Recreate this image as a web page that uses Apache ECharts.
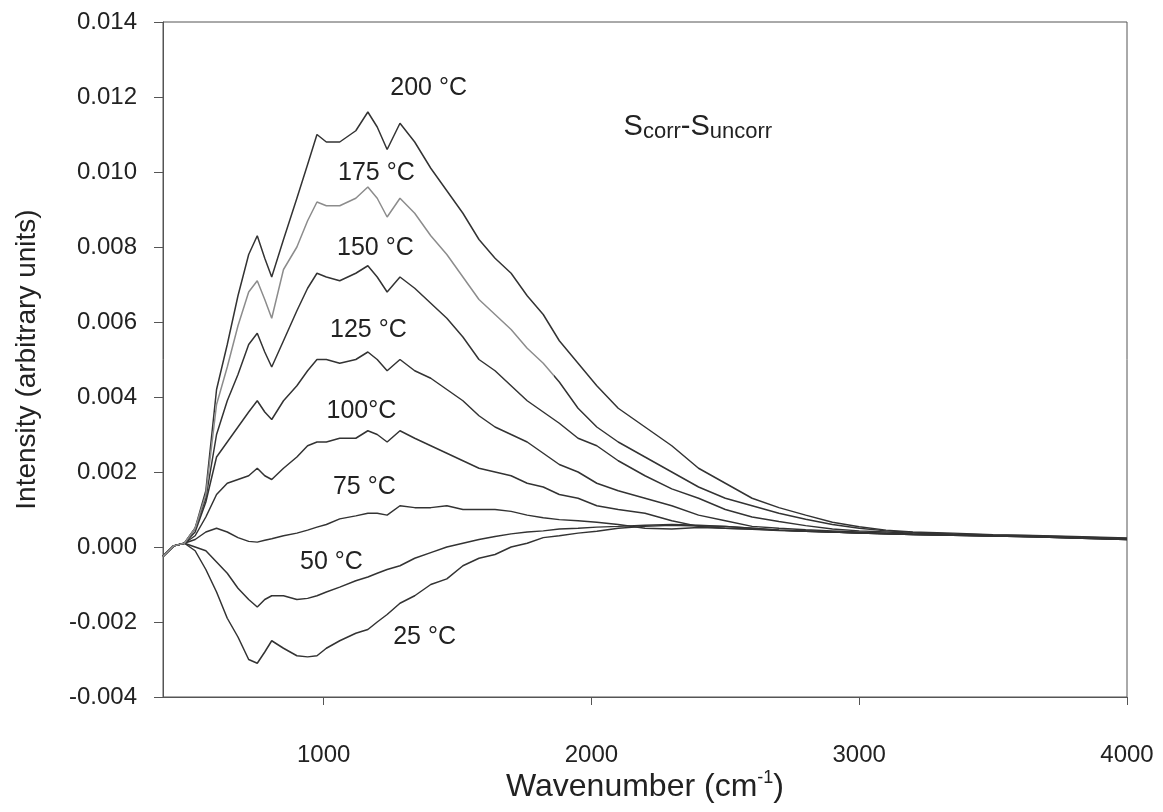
<!DOCTYPE html>
<html>
<head>
<meta charset="utf-8">
<script src="https://cdn.jsdelivr.net/npm/echarts@6/dist/echarts.min.js"></script>
<style>
  html, body { margin: 0; padding: 0; background: #fff; }
  #chart { width: 1163px; height: 812px; }
</style>
</head>
<body>
<div id="chart"></div>
<script>
// Wavenumber grid (cm^-1) shared by all spectra
const wavenumber = [400, 440, 480, 520, 560, 600, 640, 680, 720, 752, 780, 806, 850, 900, 940, 975, 1010, 1060, 1120, 1165,
  1200, 1237, 1285, 1340, 1400, 1460, 1520, 1580, 1640, 1700, 1760, 1820, 1880, 1950, 2020, 2100, 2200, 2300, 2400, 2500,
  2600, 2700, 2800, 2900, 3000, 3100, 3200, 3350, 3500, 3650, 3800, 4000];

// S_corr - S_uncorr difference spectra, one per temperature
const t200 = [-0.00025, 0.00003, 0.0001, 0.0005, 0.0015, 0.0042, 0.0054, 0.0067, 0.0078, 0.0083, 0.0077, 0.0072, 0.0082, 0.0093, 0.0102, 0.0110, 0.0108, 0.0108, 0.0111, 0.0116,
  0.0112, 0.0106, 0.0113, 0.0108, 0.0101, 0.0095, 0.0089, 0.0082, 0.0077, 0.0073, 0.0067, 0.0062, 0.0055, 0.0049, 0.0043, 0.0037, 0.0032, 0.0027, 0.0021, 0.0017,
  0.0013, 0.00105, 0.00085, 0.00066, 0.00054, 0.00045, 0.0004, 0.00037, 0.00033, 0.00031, 0.00028, 0.00024];
const t175 = [-0.00025, 0.00003, 0.0001, 0.0005, 0.0014, 0.0038, 0.0048, 0.0059, 0.0068, 0.0071, 0.0066, 0.0061, 0.0074, 0.0080, 0.0087, 0.0092, 0.0091, 0.0091, 0.0093, 0.0096,
  0.0093, 0.0088, 0.0093, 0.0089, 0.0083, 0.0078, 0.0072, 0.0066, 0.0062, 0.0058, 0.0053, 0.0049, 0.0044, 0.0037, 0.0032, 0.0028, 0.0024, 0.0020, 0.0016, 0.0013,
  0.0011, 0.0009, 0.00074, 0.0006, 0.0005, 0.00043, 0.00039, 0.00035, 0.00032, 0.0003, 0.00027, 0.00023];
const t150 = [-0.00025, 0.00003, 0.0001, 0.0005, 0.0013, 0.0030, 0.0039, 0.0046, 0.0054, 0.0057, 0.0052, 0.0048, 0.0055, 0.0063, 0.0069, 0.0073, 0.0072, 0.0071, 0.0073, 0.0075,
  0.0072, 0.0068, 0.0072, 0.0069, 0.0065, 0.0061, 0.0056, 0.0050, 0.0047, 0.0043, 0.0039, 0.0036, 0.0033, 0.0029, 0.0027, 0.0023, 0.0019, 0.00155, 0.0013, 0.001,
  0.0008, 0.00068, 0.00057, 0.00048, 0.00043, 0.0004, 0.00037, 0.00034, 0.00031, 0.00029, 0.00026, 0.00022];
const t125 = [-0.00025, 0.00003, 0.0001, 0.0004, 0.0012, 0.0024, 0.0028, 0.0032, 0.0036, 0.0039, 0.0036, 0.0034, 0.0039, 0.0043, 0.0047, 0.0050, 0.0050, 0.0049, 0.0050, 0.0052,
  0.0050, 0.0047, 0.0050, 0.0047, 0.0045, 0.0042, 0.0039, 0.0035, 0.0032, 0.0030, 0.0028, 0.0025, 0.0022, 0.0020, 0.0017, 0.0015, 0.0013, 0.0011, 0.00085, 0.0007,
  0.00055, 0.0005, 0.00046, 0.00043, 0.0004, 0.00037, 0.00035, 0.00033, 0.0003, 0.00028, 0.00025, 0.00021];
const t100 = [-0.00025, 0.00003, 0.0001, 0.0003, 0.0008, 0.0014, 0.0017, 0.0018, 0.0019, 0.0021, 0.0019, 0.0018, 0.0021, 0.0024, 0.0027, 0.0028, 0.0028, 0.0029, 0.0029, 0.0031,
  0.0030, 0.0028, 0.0031, 0.0029, 0.0027, 0.0025, 0.0023, 0.0021, 0.0020, 0.0019, 0.0017, 0.0016, 0.0014, 0.0013, 0.0011, 0.0010, 0.0009, 0.0007, 0.00055, 0.0005,
  0.00048, 0.00045, 0.00043, 0.0004, 0.00038, 0.00036, 0.00034, 0.00032, 0.0003, 0.00028, 0.00025, 0.00021];
const t75 = [-0.00025, 0.00003, 0.0001, 0.0002, 0.0004, 0.0005, 0.0004, 0.00025, 0.00015, 0.00013, 0.00018, 0.00022, 0.0003, 0.00037, 0.00045, 0.00053, 0.0006, 0.00075, 0.00083, 0.0009,
  0.0009, 0.00085, 0.0011, 0.00105, 0.00105, 0.0011, 0.0010, 0.0010, 0.0010, 0.00095, 0.00085, 0.00078, 0.00073, 0.0007, 0.00066, 0.0006, 0.0005, 0.00048, 0.00052, 0.0005,
  0.00047, 0.00044, 0.00042, 0.0004, 0.00037, 0.00035, 0.00033, 0.00031, 0.00029, 0.00027, 0.00024, 0.0002];
const t50 = [-0.00025, 0.00003, 0.0001, 0.0, -0.0001, -0.0004, -0.0007, -0.0011, -0.0014, -0.0016, -0.0014, -0.0013, -0.0013, -0.0014, -0.00137, -0.0013, -0.0012, -0.00107, -0.0009, -0.0008,
  -0.0007, -0.0006, -0.0005, -0.0003, -0.00015, 0.0, 0.0001, 0.0002, 0.00028, 0.00035, 0.0004, 0.00043, 0.00048, 0.0005, 0.00053, 0.00055, 0.00058, 0.0006, 0.00058, 0.00055,
  0.0005, 0.00045, 0.00042, 0.0004, 0.00037, 0.00035, 0.00033, 0.00031, 0.00029, 0.00027, 0.00024, 0.0002];
const t25 = [-0.00025, 0.00003, 0.0001, -0.0001, -0.0006, -0.0012, -0.0019, -0.0024, -0.0030, -0.0031, -0.0028, -0.0025, -0.0027, -0.0029, -0.00293, -0.0029, -0.0027, -0.0025, -0.0023, -0.0022,
  -0.0020, -0.0018, -0.0015, -0.0013, -0.0010, -0.00085, -0.0005, -0.0003, -0.0002, 0.0, 0.0001, 0.00025, 0.0003, 0.00037, 0.00042, 0.0005, 0.00055, 0.00058, 0.00056, 0.00055,
  0.0005, 0.00045, 0.00042, 0.0004, 0.00037, 0.00035, 0.00033, 0.00031, 0.00029, 0.00027, 0.00024, 0.0002];

const spectra = [t200, t175, t150, t125, t100, t75, t50, t25];
const curveLabels = ['200 °C', '175 °C', '150 °C', '125 °C', '100°C', '75 °C', '50 °C', '25 °C'];
// label anchor points in data space (wavenumber, intensity)
const labelWavenumber = [1392, 1197, 1193, 1167, 1141, 1152, 1029, 1377];
const labelIntensity = [0.01224, 0.00997, 0.00797, 0.00579, 0.00363, 0.0016, -0.0004, -0.0024];

const yTicks = { min: -0.004, max: 0.014, interval: 0.002 };
const xTicks = { min: 400, max: 4000, values: [1000, 2000, 3000, 4000] };
// the 175 °C trace is drawn lighter below this wavenumber
const lightUntil = 1860;

const FONT = '"Liberation Sans", Arial, sans-serif';
const INK = '#333';
const TEXT = '#222';
const LIGHT = '#8c8c8c';

const chart = echarts.init(document.getElementById('chart'), null, { renderer: 'canvas' });

function buildSeries(lightColor) {
  return spectra.map((vals, i) => ({
    name: curveLabels[i],
    type: 'line',
    data: wavenumber.map((w, k) => [w, vals[k]]),
    showSymbol: false,
    symbol: 'none',
    smooth: false,
    lineStyle: { color: (i === 1 && lightColor) ? lightColor : INK, width: 1.5 },
    itemStyle: { color: INK },
    z: i === 1 ? 3 : 2,
    animation: false
  }));
}

chart.setOption({
  backgroundColor: '#fff',
  animation: false,
  grid: { left: 163, right: 36, top: 22, bottom: 115, show: true, borderColor: '#555', borderWidth: 1 },
  xAxis: {
    type: 'value',
    min: xTicks.min,
    max: xTicks.max,
    interval: 1000,
    axisLine: { show: true, onZero: false, lineStyle: { color: '#555', width: 1 } },
    axisTick: { show: true, inside: false, length: 8, lineStyle: { color: '#555' }, customValues: xTicks.values },
    axisLabel: { color: TEXT, fontFamily: FONT, fontSize: 24, margin: 46, customValues: xTicks.values,
      formatter: v => String(v) },
    splitLine: { show: false },
    name: 'Wavenumber (cm{sup|-1})',
    nameLocation: 'middle',
    nameGap: 72,
    nameMoveOverlap: false,
    nameTextStyle: {
      color: TEXT, fontFamily: FONT, fontSize: 32,
      rich: { sup: { fontFamily: FONT, fontSize: 18, color: TEXT, verticalAlign: 'top', padding: [0, 0, 18, 0] } }
    }
  },
  yAxis: {
    type: 'value',
    min: yTicks.min,
    max: yTicks.max,
    interval: yTicks.interval,
    axisLine: { show: true, onZero: false, lineStyle: { color: '#555', width: 1 } },
    axisTick: { show: true, inside: false, length: 9, lineStyle: { color: '#555' } },
    axisLabel: { color: TEXT, fontFamily: FONT, fontSize: 24, margin: 26,
      formatter: v => v.toFixed(3) },
    splitLine: { show: false },
    name: 'Intensity (arbitrary units)',
    nameLocation: 'middle',
    nameGap: 122,
    nameMoveOverlap: false,
    nameRotate: 90,
    nameTextStyle: { color: TEXT, fontFamily: FONT, fontSize: 28 }
  },
  series: buildSeries(null)
});

// light/dark split of the 175 °C trace as a hard-stop horizontal gradient
const xLeft = chart.convertToPixel({ gridIndex: 0 }, [xTicks.min, 0])[0];
const xRight = chart.convertToPixel({ gridIndex: 0 }, [xTicks.max, 0])[0];
const xSplit = chart.convertToPixel({ gridIndex: 0 }, [lightUntil, 0])[0];
const f = (xSplit - xLeft) / (xRight - xLeft);
const splitColor = new echarts.graphic.LinearGradient(xLeft, 0, xRight, 0, [
  { offset: 0, color: LIGHT }, { offset: f, color: LIGHT },
  { offset: f, color: INK }, { offset: 1, color: INK }
], true);

// Temperature labels, placed in data space
const labelGraphics = curveLabels.map((txt, i) => {
  const p = chart.convertToPixel({ gridIndex: 0 }, [labelWavenumber[i], labelIntensity[i]]);
  return {
    type: 'text',
    x: p[0], y: p[1],
    style: { text: txt, fill: TEXT, font: '25px ' + FONT, textAlign: 'center', textVerticalAlign: 'middle' },
    z: 10
  };
});

// Name of the plotted quantity, with subscripts
const titlePos = chart.convertToPixel({ gridIndex: 0 }, [2120, 0.0116]);
labelGraphics.push({
  type: 'text',
  x: titlePos[0], y: titlePos[1],
  style: {
    text: '{s|S}{b|corr}{s|-S}{b|uncorr}',
    rich: {
      s: { fontFamily: FONT, fontSize: 29, fill: TEXT, lineHeight: 31, verticalAlign: 'top' },
      b: { fontFamily: FONT, fontSize: 22, fill: TEXT, lineHeight: 23, verticalAlign: 'bottom', padding: [17, 0, 0, 0] }
    },
    textAlign: 'left', textVerticalAlign: 'top'
  },
  z: 10
});

chart.setOption({
  series: buildSeries(splitColor),
  graphic: labelGraphics
});
</script>
</body>
</html>
